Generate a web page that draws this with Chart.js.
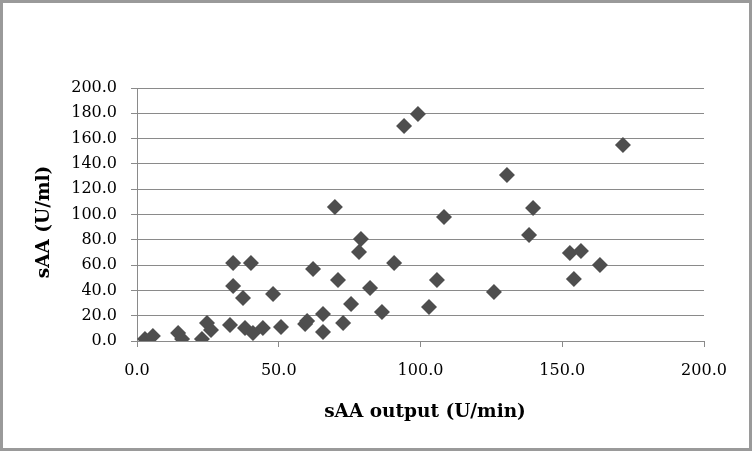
<!DOCTYPE html>
<html>
<head>
<meta charset="utf-8">
<script src="https://cdn.jsdelivr.net/npm/chart.js@4"></script>
<style>
  html, body { margin: 0; padding: 0; background: #fff; }
  #wrap { width: 752px; height: 451px; box-sizing: border-box; border: 3px solid #9a9a9a; background: #fff; }
  canvas { display: block; }
</style>
</head>
<body>
<div id="wrap"><canvas id="c" width="746" height="445"></canvas></div>
<script>
// sAA output (U/min)
const outputValues = [2.8, 5.6, 14.5, 15.9, 22.9, 24.7, 26.1, 32.8, 33.9, 33.9, 37.4, 38.1, 40.2, 40.9, 44.4, 48.0, 50.8, 59.3, 60.0, 62.1, 65.6, 65.6, 69.8, 70.9, 72.7, 75.5, 78.3, 79.0, 82.2, 86.4, 90.7, 94.2, 99.1, 103.0, 105.8, 108.3, 125.9, 130.5, 138.3, 139.7, 152.7, 154.1, 156.6, 163.3, 171.4];
// sAA (U/ml)
const concValues   = [1.6, 4.0, 6.3, 1.6, 1.6, 14.2, 8.7, 12.6, 61.7, 43.5, 34.0, 10.3, 61.7, 6.3, 10.3, 37.2, 11.1, 13.4, 15.8, 56.9, 21.3, 7.1, 105.9, 48.2, 14.2, 29.2, 70.4, 80.6, 41.9, 22.9, 61.7, 170.0, 179.4, 26.9, 48.2, 98.0, 38.7, 131.2, 83.8, 105.1, 69.6, 49.0, 71.1, 60.1, 154.9];
const xTicks = [0, 50, 100, 150, 200];
const yTicks = [0, 20, 40, 60, 80, 100, 120, 140, 160, 180, 200];
const xTitle = "sAA output (U/min)";
const yTitle = "sAA (U/ml)";

const points = outputValues.map((x, i) => ({ x: x, y: concValues[i] }));

const titlePlugin = {
  id: 'axisTitles',
  afterDraw(chart) {
    const ctx = chart.ctx;
    ctx.save();
    ctx.fillStyle = '#000';
    ctx.font = 'bold 18.5px "DejaVu Serif"';
    ctx.textAlign = 'center';
    ctx.textBaseline = 'middle';
    ctx.fillText(xTitle, 422, 409);
    ctx.translate(41, 219);
    ctx.rotate(-Math.PI / 2);
    ctx.fillText(yTitle, 0, 0);
    ctx.restore();
  }
};

new Chart(document.getElementById('c'), {
  type: 'scatter',
  data: {
    datasets: [{
      data: points,
      pointStyle: 'rectRot',
      pointRadius: 8,
      pointHoverRadius: 8,
      backgroundColor: '#4e4e4e',
      borderColor: '#4e4e4e',
      borderWidth: 0
    }]
  },
  options: {
    responsive: false,
    animation: false,
    layout: { padding: { top: 85, right: 45, left: 0, bottom: 0 } },
    plugins: { legend: { display: false }, tooltip: { enabled: false } },
    scales: {
      x: {
        type: 'linear',
        min: 0, max: 200,
        afterBuildTicks: (s) => { s.ticks = xTicks.map(v => ({ value: v })); },
        afterFit: (s) => { s.height = 107; },
        grid: { display: true, drawOnChartArea: false, drawTicks: true, tickLength: 6, color: '#8a8a8a', lineWidth: 1 },
        border: { display: true, color: '#8a8a8a', width: 1 },
        ticks: {
          padding: 14,
          color: '#000',
          font: { family: '"DejaVu Serif"', size: 16 },
          maxRotation: 0,
          callback: (v) => Number(v).toFixed(1)
        }
      },
      y: {
        type: 'linear',
        min: 0, max: 200,
        afterBuildTicks: (s) => { s.ticks = yTicks.map(v => ({ value: v })); },
        afterFit: (s) => { s.width = 134; },
        grid: { display: true, drawOnChartArea: true, drawTicks: true, tickLength: 6, color: '#8a8a8a', lineWidth: 1 },
        border: { display: true, color: '#8a8a8a', width: 1 },
        ticks: {
          padding: 14,
          color: '#000',
          font: { family: '"DejaVu Serif"', size: 16 },
          callback: (v) => Number(v).toFixed(1)
        }
      }
    }
  },
  plugins: [titlePlugin]
});
</script>
</body>
</html>
